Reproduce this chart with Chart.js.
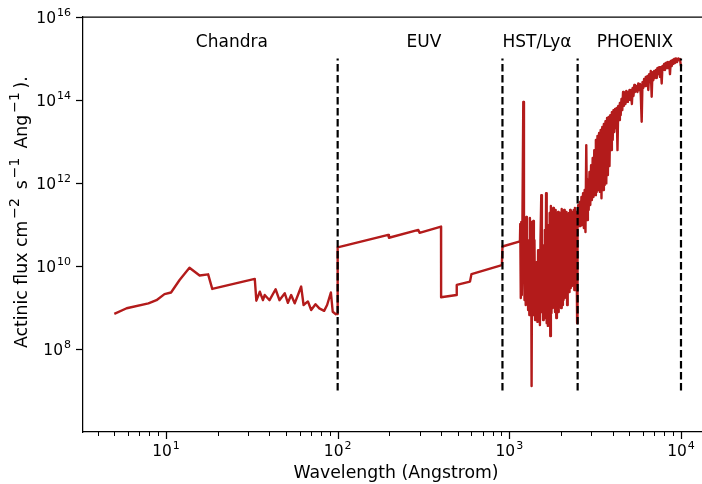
<!DOCTYPE html>
<html><head><meta charset="utf-8">
<script src="https://cdn.jsdelivr.net/npm/chart.js@4/dist/chart.umd.min.js"></script>
<style>html,body{margin:0;padding:0;background:#fff;}canvas{display:block;}</style>
</head><body>
<canvas id="c" width="702" height="484"></canvas>
<script>
// ---- data (wavelength in Angstrom, flux in cm^-2 s^-1 Ang^-1) ----
const chandraWl = [5.0,5.9,7.9,8.8,9.8,10.7,12.0,13.7,15.7,17.6,18.6,32.9,33.6,35.2,36.7,37.6,40.1,43.5,45.8,49.2,51.3,53.6,56.2,58.7,61.3,63.3,67.1,70.1,74.3,78.2,83.4,86.8,91.3,93.6,97.6,99.9];
const chandraFlux = [7.0e8,9.6e8,1.26e9,1.5e9,2.1e9,2.3e9,4.6e9,9.1e9,5.9e9,6.3e9,2.8e9,4.9e9,1.46e9,2.4e9,1.5e9,2.0e9,1.5e9,2.75e9,1.5e9,2.2e9,1.3e9,2.0e9,1.26e9,2.0e9,3.2e9,1.15e9,1.4e9,8.7e8,1.2e9,9.5e8,8.3e8,1.15e9,2.3e9,7.9e8,6.9e8,7.0e8];

const euvWl = [100,197,199,295,300,400,400.5,493,494,590,602,905,912];
const euvFlux = [2.8e10,5.6e10,4.8e10,7.4e10,6.3e10,8.9e10,1.76e9,2.0e9,3.5e9,4.2e9,6.4e9,1.05e10,2.95e10];

const hstWl = [1153,1158,1166,1174,1182,1190,1206,1217,1226,1236,
  1246,1256,1266,1276,1287,1297,1308,1318,1329,1339,
  1348,1357,1368,1379,1390,1401,1413,1424,1436,1447,
  1459,1471,1483,1495,1507,1519,1535,1548,1560,1573,
  1586,1598,1611,1624,1637,1651,1664,1677,1691,1705,
  1718,1732,1746,1760,1774,1789,1803,1818,1833,1847,
  1862,1877,1893,1908,1923,1939,1955,1970,1986,2002,
  2019,2035,2051,2068,2085,2102,2119,2136,2153,2171,
  2188,2206,2224,2242,2260,2278,2297,2315,2334,2353,
  2372,2391,2410,2430,2450,2469,2483,2496];
const hstFlux = [3.9e10,1.03e11,1.69e9,1.15e11,2.0e9,4.2e10,9e13,1.39e10,1.52e9,1.43e11,
  1.15e9,1.52e11,1.52e9,1.39e10,8.7e8,4.2e10,6.6e8,1.43e11,1.52e9,1.15e11,
  1.28e7,2.4e10,1.52e9,1.21e11,6.6e8,4.2e10,5.0e8,1.06e10,6.2e8,1.25e10,
  4.5e8,2.4e10,5.6e8,1.84e10,3.8e8,4.2e10,5.1e11,7.8e8,3.2e10,5.0e8,
  2.4e10,6.6e8,7.4e10,5.6e8,5.7e11,4.2e8,4.2e10,3.6e8,9.7e10,6.6e8,
  1.89e11,2.06e8,2.8e11,7.4e8,2.0e11,9.7e8,2.5e11,1.52e9,1.69e11,7.8e8,
  2.23e11,5.6e8,1.6e11,1.15e9,2.0e11,7.8e8,1.43e11,1.15e9,1.89e11,9.7e8,
  2.36e11,1.15e9,2.0e11,1.52e9,2.23e11,1.69e9,1.79e11,1.89e9,2.0e11,1.15e9,
  1.69e11,2.64e9,1.89e11,2.36e9,2.23e11,2.95e9,2.0e11,3.3e9,1.79e11,3.7e9,
  2.23e11,2.64e9,2.5e11,4.1e9,2.0e11,8.0e9,4.2e8,1.69e11];

const phoenixWl = [2521,2548,2576,2603,2631,2660,2689,2718,2747,2777,
  2807,2837,2868,2899,2930,2962,2994,3026,3059,3092,
  3125,3159,3193,3227,3262,3297,3333,3369,3405,3442,
  3479,3516,3554,3593,3632,3671,3710,3750,3791,3832,
  3873,3915,3957,4000,4043,4087,4131,4175,4220,4266,
  4311,4358,4405,4453,4501,4549,4598,4648,4698,4749,
  4800,4852,4904,4957,5011,5065,5119,5175,5230,5287,
  5345,5395,5518,5578,5639,5699,5769,5831,5902,5966,
  6030,6096,6171,6236,6312,6379,6449,6526,6597,6668,
  6749,6822,6896,6981,7055,7151,7228,7295,7375,7463,
  7545,7625,7719,7801,7886,7981,8068,8154,8254,8342,
  8433,8533,8628,8719,8827,8920,9016,9126,9224,9351,
  9477,9641,9759,9863,9970,10000];
const phoenixFlux = [2.95e11,9.2e10,3.5e11,9.2e10,4.6e11,9.7e10,5.7e11,8.2e10,6.8e11,6.6e10,
  8.2e12,1.28e11,1.18e12,2.23e11,1.84e12,2.95e11,2.7e12,3.9e11,4.0e12,4.6e11,
  6.2e12,5.1e11,1.09e13,6.1e11,1.36e13,6.8e11,1.6e13,6.1e11,1.89e13,4.3e11,
  2.23e13,6.8e11,2.64e13,9.0e11,3.1e13,9.8e11,3.7e13,1.56e12,3.9e13,2.57e12,
  4.3e13,6.2e12,5.1e13,1.09e13,5.7e13,1.69e13,6.1e13,2.1e13,6.4e13,6.2e12,
  7.2e13,3.3e13,8.5e13,4.3e13,1.06e14,5.7e13,1.56e14,7.2e13,1.39e14,8.0e13,
  1.65e14,9.0e13,1.56e14,1.0e14,1.74e14,1.0e14,1.74e14,8.0e13,1.95e14,1.25e14,
  2.3e14,1.56e14,2.17e14,1.56e14,2.5e14,1.74e14,2.43e14,1.32e14,3.0e13,2.7e14,
  1.95e14,3.2e14,2.17e14,3.6e14,2.3e14,3.8e14,1.74e14,4.2e14,2.7e14,5.0e14,
  1.2e14,4.7e14,3.0e14,5.0e14,3.4e14,5.3e14,3.4e14,5.9e14,4.2e14,6.2e14,
  3.6e14,6.2e14,2.5e14,6.6e14,5.3e14,7.4e14,5.3e14,7.8e14,5.9e14,8.2e14,
  5.9e14,8.2e14,4.2e14,8.7e14,6.6e14,9.2e14,7.4e14,9.7e14,7.8e14,1.0e15,
  8.2e14,1.0e15,9.2e14,9.7e14,7.0e14,6.6e14];

// instrument boundaries (dashed lines)
const boundaryWl = [100, 912, 2500, 10000];
const boundaryFluxRange = [1e7, 1e15];
// region labels
const regionNames = ['Chandra', 'EUV', 'HST/Ly\u03B1', 'PHOENIX'];
const regionLabelWl = [24.2, 318, 1449, 5395];
const regionLabelFlux = 1.9e15;
// axis ticks
const xMajorTicks = [10, 100, 1000, 10000];
const yMajorTicks = [1e8, 1e10, 1e12, 1e14, 1e16];

// ---- build datasets ----
function pairs(w, f) { return w.map((v, i) => ({x: v, y: f[i]})); }
const spectrum = [].concat(pairs(chandraWl, chandraFlux), pairs(euvWl, euvFlux),
  pairs(hstWl, hstFlux), pairs(phoenixWl, phoenixFlux));

const datasets = [{
  data: spectrum, showLine: true, borderColor: '#b31b1b', borderWidth: 2.4,
  pointRadius: 0, borderJoinStyle: 'round', borderCapStyle: 'butt', order: 2
}];
boundaryWl.forEach(b => datasets.push({
  data: [{x: b, y: boundaryFluxRange[0]}, {x: b, y: boundaryFluxRange[1]}],
  showLine: true, borderColor: '#000', borderWidth: 2.2, borderDash: [7.5, 3.5],
  pointRadius: 0, order: 1
}));

const FONT = "'DejaVu Sans', sans-serif";

function drawPow(ctx, exp, x, baseY, align, big, small, rise) {
  ctx.font = big + 'px ' + FONT;
  const w1 = ctx.measureText('10').width;
  ctx.font = small + 'px ' + FONT;
  const w2 = ctx.measureText(exp).width;
  const total = w1 + w2 + 1;
  const start = align === 'center' ? x - total / 2 : x - total;
  ctx.textAlign = 'left'; ctx.textBaseline = 'alphabetic';
  ctx.font = big + 'px ' + FONT;
  ctx.fillText('10', start, baseY);
  ctx.font = small + 'px ' + FONT;
  ctx.fillText(exp, start + w1 + 1, baseY - rise);
}

const decor = {
  id: 'decor',
  afterDraw(chart) {
    const {ctx, chartArea: a, scales: {x, y}} = chart;
    ctx.save();
    ctx.strokeStyle = '#000'; ctx.fillStyle = '#000';
    // top spine
    ctx.lineWidth = 1.25;
    ctx.beginPath(); ctx.moveTo(a.left - 0.6, a.top); ctx.lineTo(a.right, a.top); ctx.stroke();
    // x major ticks
    ctx.lineWidth = 1.25;
    xMajorTicks.forEach(v => {
      const px = Math.round(x.getPixelForValue(v)) + 0.5;
      ctx.beginPath(); ctx.moveTo(px, a.bottom); ctx.lineTo(px, a.bottom + 7); ctx.stroke();
    });
    // x minor ticks
    ctx.lineWidth = 1;
    [1, 10, 100, 1000, 10000].forEach(d => {
      for (let m = 2; m <= 9; m++) {
        const v = m * d;
        if (v < x.min || v > x.max) continue;
        const px = Math.round(x.getPixelForValue(v)) + 0.5;
        ctx.beginPath(); ctx.moveTo(px, a.bottom); ctx.lineTo(px, a.bottom + 4); ctx.stroke();
      }
    });
    // y major ticks
    ctx.lineWidth = 1.25;
    yMajorTicks.forEach(v => {
      const py = Math.round(y.getPixelForValue(v)) + 0.5;
      ctx.beginPath(); ctx.moveTo(a.left - 7, py); ctx.lineTo(a.left, py); ctx.stroke();
    });
    // tick labels
    xMajorTicks.forEach(v => {
      drawPow(ctx, String(Math.round(Math.log10(v))), x.getPixelForValue(v), a.bottom + 24, 'center', 15.5, 11, 7.5);
    });
    yMajorTicks.forEach(v => {
      drawPow(ctx, String(Math.round(Math.log10(v))), a.left - 12, y.getPixelForValue(v) + 6, 'right', 15.5, 11, 7.5);
    });
    // x title
    ctx.font = '17.3px ' + FONT; ctx.textAlign = 'center'; ctx.textBaseline = 'alphabetic';
    ctx.fillText('Wavelength (Angstrom)', 396, 478);
    // y title (rotated, with superscripts)
    ctx.save();
    ctx.translate(26.5, 348);
    ctx.rotate(-Math.PI / 2);
    ctx.textAlign = 'left';
    const parts = [['Actinic flux cm', 0], ['\u22122', 1], [' s', 0], ['\u22121', 1], [' Ang', 0], ['\u22121', 1], [').', 0]];
    let cx = 0;
    parts.forEach(([t, sup]) => {
      if (sup) {
        ctx.font = '14px ' + FONT;
        cx += 2;
        ctx.fillText(t, cx, -8);
        cx += ctx.measureText(t).width + 3.5;
      } else {
        ctx.font = '17.3px ' + FONT;
        ctx.fillText(t, cx, 0);
        cx += ctx.measureText(t).width;
      }
    });
    ctx.restore();
    // region labels
    ctx.font = '17px ' + FONT; ctx.textAlign = 'center'; ctx.textBaseline = 'alphabetic';
    regionNames.forEach((n, i) => {
      ctx.fillText(n, x.getPixelForValue(regionLabelWl[i]), y.getPixelForValue(regionLabelFlux));
    });
    ctx.restore();
  }
};

new Chart(document.getElementById('c'), {
  type: 'scatter',
  data: {datasets},
  options: {
    responsive: false, animation: false, devicePixelRatio: 1,
    layout: {padding: {left: 83, top: 17, right: 0, bottom: 52}},
    plugins: {legend: {display: false}, tooltip: {enabled: false}},
    scales: {
      x: {
        type: 'logarithmic', position: 'bottom', min: 3.285, max: 13255,
        ticks: {display: false}, grid: {display: false, drawTicks: false, tickLength: 0},
        border: {display: true, color: '#000', width: 1.25}
      },
      y: {
        type: 'logarithmic', position: 'left', min: 1e6, max: 1e16,
        ticks: {display: false}, grid: {display: false, drawTicks: false, tickLength: 0},
        border: {display: true, color: '#000', width: 1.25}
      }
    }
  },
  plugins: [decor]
});
</script>
</body></html>
